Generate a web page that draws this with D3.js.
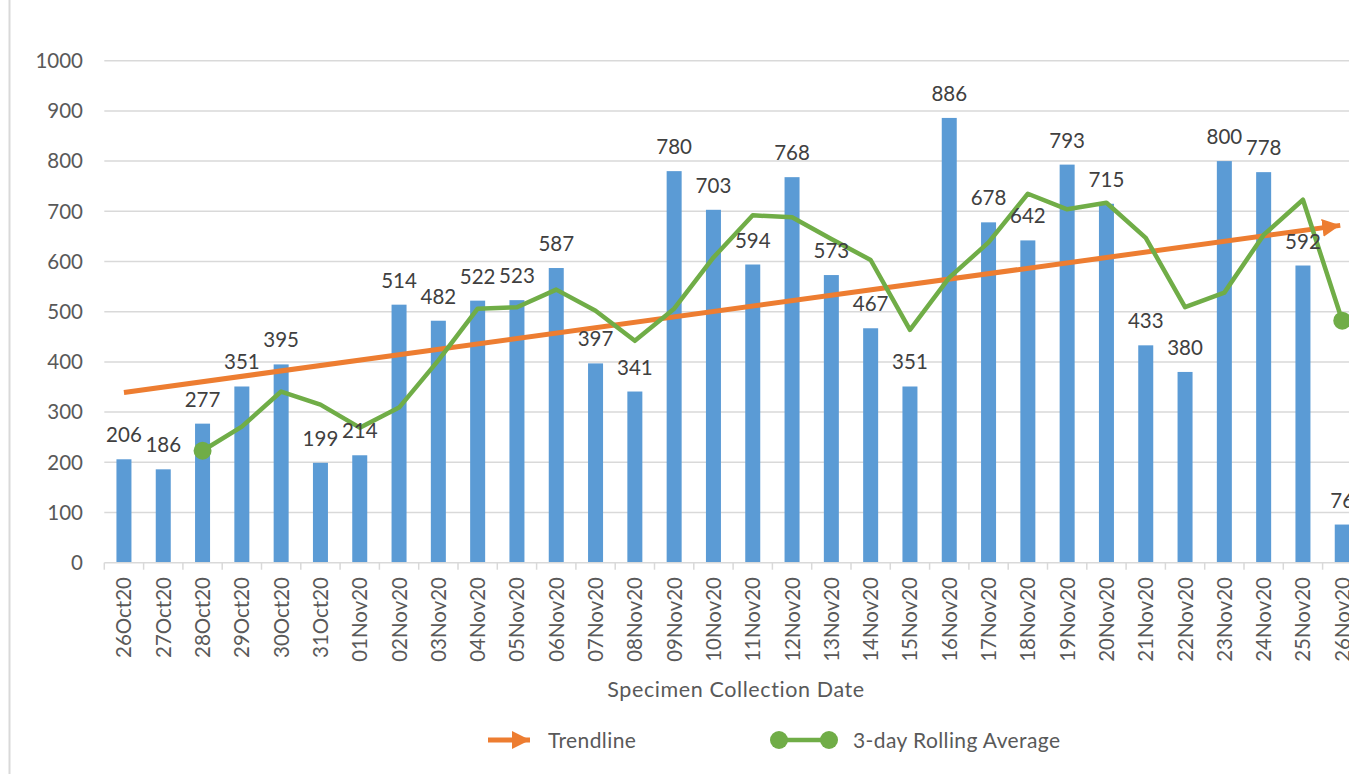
<!DOCTYPE html>
<html>
<head>
<meta charset="utf-8">
<script src="https://cdn.jsdelivr.net/npm/d3@7"></script>
<style>
  html, body { margin: 0; padding: 0; background: #fff; overflow: hidden; }
  text { font-family: Lato, "Open Sans", sans-serif; }
</style>
</head>
<body>
<div id="chart"></div>
<script>
// Daily specimen counts, 26 Oct - 26 Nov 2020
const dates = ["26Oct20", "27Oct20", "28Oct20", "29Oct20", "30Oct20", "31Oct20",
  "01Nov20", "02Nov20", "03Nov20", "04Nov20", "05Nov20", "06Nov20", "07Nov20",
  "08Nov20", "09Nov20", "10Nov20", "11Nov20", "12Nov20", "13Nov20", "14Nov20",
  "15Nov20", "16Nov20", "17Nov20", "18Nov20", "19Nov20", "20Nov20", "21Nov20",
  "22Nov20", "23Nov20", "24Nov20", "25Nov20", "26Nov20"]

const counts = [206, 186, 277, 351, 395, 199, 214, 514, 482, 522, 523, 587, 397,
  341, 780, 703, 594, 768, 573, 467, 351, 886, 678, 642, 793, 715, 433, 380,
  800, 778, 592, 76]

// 3-day rolling average (starts at 28Oct20)
const rollingDates = dates.slice(2)
const rolling = [223, 271, 341, 315, 269, 309, 403, 506, 509, 544, 502, 442,
  506, 608, 692, 688, 645, 603, 464, 568, 638, 735, 704, 717, 647, 509, 538,
  653, 723, 482]

// trendline end points (first and last category)
const trendDates = ["26Oct20", "26Nov20"]
const trendValues = [339, 672]

const yTicks = [0, 100, 200, 300, 400, 500, 600, 700, 800, 900, 1000]

const width = 1349
const height = 774
const left = 104.3
const step = 39.3

const x = d3.scaleBand()
  .domain(dates)
  .range([left, left + step * dates.length])

const y = d3.scaleLinear()
  .domain([0, 1000])
  .range([562.7, 60.7])

const cx = d => x(d) + x.bandwidth() / 2

const svg = d3.select("#chart")
  .append("svg")
    .attr("width", width)
    .attr("height", height)

// chart frame edge on the left
svg.append("line")
    .attr("x1", 9.5).attr("x2", 9.5)
    .attr("y1", 0).attr("y2", height)
    .attr("stroke", "#d9d9d9")
    .attr("stroke-width", 2)

// Gridlines
svg.append("g")
  .selectAll("line")
  .data(yTicks.filter(d => d > 0))
  .join("line")
    .attr("x1", left).attr("x2", width + 20)
    .attr("y1", d => y(d)).attr("y2", d => y(d))
    .attr("stroke", "#d9d9d9")
    .attr("stroke-width", 1.5)

// Y tick labels
svg.append("g")
  .selectAll("text")
  .data(yTicks)
  .join("text")
    .attr("x", 83)
    .attr("y", d => y(d))
    .attr("dy", "0.36em")
    .attr("text-anchor", "end")
    .attr("font-size", 20.5)
    .attr("fill", "#595959")
    .text(d => d)

// Bars
const barW = 15
svg.append("g")
  .selectAll("rect")
  .data(counts)
  .join("rect")
    .attr("x", (d, i) => cx(dates[i]) - barW / 2)
    .attr("y", d => y(d))
    .attr("width", barW)
    .attr("height", d => y(0) - y(d))
    .attr("fill", "#5b9bd5")

// X axis line and ticks
svg.append("line")
    .attr("x1", left).attr("x2", width + 20)
    .attr("y1", y(0)).attr("y2", y(0))
    .attr("stroke", "#d9d9d9")
    .attr("stroke-width", 1.5)

svg.append("g")
  .selectAll("line")
  .data(dates)
  .join("line")
    .attr("x1", d => x(d)).attr("x2", d => x(d))
    .attr("y1", y(0)).attr("y2", y(0) + 7)
    .attr("stroke", "#d9d9d9")
    .attr("stroke-width", 1.5)

// X tick labels, rotated
svg.append("g")
  .selectAll("text")
  .data(dates)
  .join("text")
    .attr("text-anchor", "end")
    .attr("font-size", 20.5)
    .attr("fill", "#595959")
    .attr("transform", d => "translate(" + (cx(d) + 7.5) + "," + 577 + ")rotate(-90)")
    .text(d => d)

svg.append("text")
    .attr("x", 736)
    .attr("y", 697)
    .attr("text-anchor", "middle")
    .attr("font-size", 21.5)
    .attr("letter-spacing", 0.6)
    .attr("fill", "#595959")
    .text("Specimen Collection Date")

// Trendline arrow
const defs = svg.append("defs")
defs.append("marker")
    .attr("id", "arrow")
    .attr("viewBox", "0 0 10 10")
    .attr("refX", 10).attr("refY", 5)
    .attr("markerWidth", 3.6).attr("markerHeight", 4)
    .attr("markerUnits", "strokeWidth")
    .attr("orient", "auto")
  .append("path")
    .attr("d", "M0,0L10,5L0,10Z")
    .attr("fill", "#ed7d31")

svg.append("line")
    .attr("x1", cx(trendDates[0])).attr("y1", y(trendValues[0]))
    .attr("x2", cx(trendDates[1]) - 2).attr("y2", y(trendValues[1]))
    .attr("stroke", "#ed7d31")
    .attr("stroke-width", 5)
    .attr("marker-end", "url(#arrow)")

// Rolling average line
const line = d3.line()
  .x((d, i) => cx(rollingDates[i]))
  .y(d => y(d))

svg.append("path")
    .datum(rolling)
    .attr("d", line)
    .attr("fill", "none")
    .attr("stroke", "#70ad47")
    .attr("stroke-width", 4.5)
    .attr("stroke-linejoin", "round")

svg.append("g")
  .selectAll("circle")
  .data([0, rolling.length - 1])
  .join("circle")
    .attr("cx", i => cx(rollingDates[i]))
    .attr("cy", i => y(rolling[i]))
    .attr("r", 9)
    .attr("fill", "#70ad47")

// Data labels
svg.append("g")
  .selectAll("text")
  .data(counts)
  .join("text")
    .attr("x", (d, i) => cx(dates[i]))
    .attr("y", d => y(d) - 17)
    .attr("text-anchor", "middle")
    .attr("font-size", 20.5)
    .attr("fill", "#404040")
    .text(d => d)

// Legend
const legY = 740
svg.append("line")
    .attr("x1", 488).attr("x2", 530)
    .attr("y1", legY).attr("y2", legY)
    .attr("stroke", "#ed7d31")
    .attr("stroke-width", 5)
    .attr("marker-end", "url(#arrow)")
svg.append("text")
    .attr("x", 548).attr("y", legY)
    .attr("dy", "0.36em")
    .attr("font-size", 21)
    .attr("letter-spacing", 0.4)
    .attr("fill", "#595959")
    .text("Trendline")

svg.append("line")
    .attr("x1", 779).attr("x2", 829)
    .attr("y1", legY).attr("y2", legY)
    .attr("stroke", "#70ad47")
    .attr("stroke-width", 4.5)
svg.selectAll(".legdot")
  .data([779, 829])
  .join("circle")
    .attr("class", "legdot")
    .attr("cx", d => d).attr("cy", legY)
    .attr("r", 9)
    .attr("fill", "#70ad47")
svg.append("text")
    .attr("x", 853).attr("y", legY)
    .attr("dy", "0.36em")
    .attr("font-size", 21)
    .attr("letter-spacing", 0.4)
    .attr("fill", "#595959")
    .text("3-day Rolling Average")
</script>
</body>
</html>
